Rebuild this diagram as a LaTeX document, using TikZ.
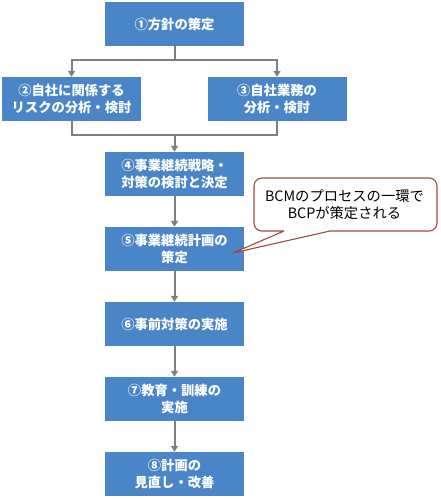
\documentclass[tikz,border=0pt]{standalone}
\usepackage{fontspec}
\newfontfamily\jp{Noto Sans CJK JP}
\usetikzlibrary{arrows.meta}
\definecolor{boxblue}{HTML}{4A85C7}
\definecolor{arrowgray}{HTML}{7F7F7F}
\definecolor{calloutred}{HTML}{A5473F}
\tikzset{
  stepbox/.style={fill=boxblue, minimum width=139pt, minimum height=44pt, inner sep=0pt,
    text=white, align=center, font=\jp\bfseries\fontsize{13.3}{17}\selectfont},
  conn/.style={draw=arrowgray, line width=2pt},
  arr/.style={conn, -{Triangle[length=6pt,width=7pt]}},
  callshape/.style={draw=calloutred, line width=1.1pt, fill=white, line join=round},
  calltext/.style={align=center, font=\jp\fontsize{14.3}{17}\selectfont, text=black, inner sep=0pt}
}
\begin{document}
\begin{tikzpicture}[x=1pt,y=-1pt]
\useasboundingbox (0,0) rectangle (440,500);
\node[stepbox] (b1) at (174.5,24) {①方針の策定};
\node[stepbox] (b2) at (71.5,99) {②自社に関係する\\リスクの分析・検討};
\node[stepbox] (b3) at (277,99) {③自社業務の\\分析・検討};
\node[stepbox] (b4) at (174.5,174) {④事業継続戦略・\\対策の検討と決定};
\node[stepbox] (b5) at (174.5,249) {⑤事業継続計画の\\策定};
\node[stepbox] (b6) at (174.5,324) {⑥事前対策の実施};
\node[stepbox] (b7) at (174.5,399) {⑦教育・訓練の\\実施};
\node[stepbox] (b8) at (174.5,474) {⑧計画の\\見直し・改善};
\coordinate (j1) at (174.5,60);
\coordinate (j2) at (174.5,135);
\draw[conn] (b1.south) -- (j1);
\draw[arr] (j1) -| (b2.north);
\draw[arr] (j1) -| (b3.north);
\draw[conn] (b2.south) |- (j2);
\draw[conn] (b3.south) |- (j2);
\draw[arr] (j2) -- (b4.north);
\draw[arr] (b4) -- (b5);
\draw[arr] (b5) -- (b6);
\draw[arr] (b6) -- (b7);
\draw[arr] (b7) -- (b8);
\coordinate (tip) at (233,253);
\path[callshape] (284,231) [rounded corners=8pt] -- (254,231) -- (254,178) -- (437,178) -- (437,231) [sharp corners] -- (330,231) -- (tip) -- (284,231);
\node[calltext] (ct) at (344.5,205) {BCMのプロセスの一環で\\BCPが策定される};
\end{tikzpicture}
\end{document}
